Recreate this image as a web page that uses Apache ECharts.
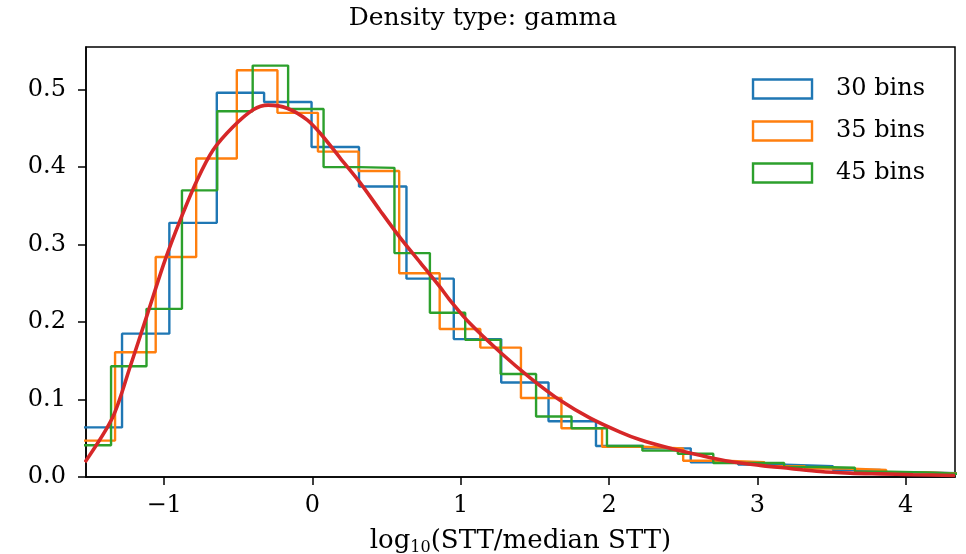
<!DOCTYPE html>
<html>
<head>
<meta charset="utf-8">
<script src="https://cdn.jsdelivr.net/npm/echarts@6/dist/echarts.min.js"></script>
<style>html,body{margin:0;padding:0;background:#fff}#c{width:966px;height:554px}</style>
</head>
<body>
<div id="c"></div>
<script>
// ---- data ----
const titleText = 'Density type: gamma';
const xNameRich = 'log{sub|10}(STT/median STT)';
const xTicks = [-1, 0, 1, 2, 3, 4];
const yTicks = [0, 0.1, 0.2, 0.3, 0.4, 0.5];

const names = ['30 bins', '35 bins', '45 bins'];

// 30 bins (visible part): bin edges and densities
const edges30 = [-1.604, -1.284, -0.965, -0.645, -0.326, -0.006, 0.314, 0.634, 0.953, 1.273,
  1.592, 1.912, 2.232, 2.551, 2.871, 3.190, 3.510, 3.830, 4.149, 4.469];
const dens30 = [0.064, 0.185, 0.328, 0.496, 0.484, 0.426, 0.375, 0.256, 0.178, 0.122,
  0.072, 0.040, 0.037, 0.019, 0.016, 0.014, 0.009, 0.006, 0.004];

// 35 bins
const edges35 = [-1.605, -1.331, -1.057, -0.784, -0.510, -0.236, 0.037, 0.311, 0.585, 0.858,
  1.132, 1.406, 1.679, 1.953, 2.227, 2.500, 2.774, 3.048, 3.321, 3.595, 3.869, 4.142, 4.416];
const dens35 = [0.047, 0.161, 0.284, 0.411, 0.525, 0.470, 0.420, 0.395, 0.263, 0.191,
  0.167, 0.102, 0.063, 0.039, 0.037, 0.021, 0.019, 0.014, 0.011, 0.009, 0.006, 0.004];

// 45 bins
const edges45 = [-1.597, -1.358, -1.119, -0.880, -0.642, -0.403, -0.164, 0.075, 0.314, 0.553,
  0.792, 1.030, 1.269, 1.508, 1.747, 1.986, 2.225, 2.464, 2.703, 2.942, 3.181, 3.419, 3.658,
  3.897, 4.136, 4.375];
const dens45 = [0.041, 0.143, 0.217, 0.370, 0.472, 0.531, 0.475, 0.400, 0.399, 0.289,
  0.212, 0.177, 0.133, 0.078, 0.063, 0.040, 0.034, 0.030, 0.018, 0.018, 0.013, 0.012,
  0.007, 0.006, 0.004];

// fitted gamma density
const curveX = [-1.534, -1.347, -1.230, -1.115, -0.994, -0.893, -0.778, -0.670, -0.535, -0.400,
  -0.299, -0.171, -0.036, 0.051, 0.186, 0.321, 0.456, 0.591, 0.726, 0.861, 0.928, 1.063, 1.266,
  1.468, 1.670, 1.873, 2.075, 2.210, 2.412, 2.614, 2.817, 3.019, 3.221, 3.424, 3.626, 3.828,
  4.050, 4.333];
const curveY = [0.019, 0.077, 0.142, 0.209, 0.280, 0.331, 0.383, 0.422, 0.452, 0.474,
  0.480, 0.476, 0.461, 0.444, 0.412, 0.380, 0.344, 0.309, 0.277, 0.245, 0.228, 0.198, 0.161,
  0.128, 0.099, 0.076, 0.058, 0.048, 0.037, 0.028, 0.020, 0.015, 0.011, 0.007, 0.005, 0.004,
  0.003, 0.002];

const colors = ['#1f77b4', '#ff7f0e', '#2ca02c'];
const curveColor = '#d62728';

// ---- build ----
function stepData(edges, dens) {
  const d = [[edges[0], 0]];
  for (let i = 0; i < dens.length; i++) d.push([edges[i], dens[i]]);
  d.push([edges[edges.length - 1], dens[dens.length - 1]]);
  d.push([edges[edges.length - 1], 0]);
  return d;
}
const FONT = 'DejaVu Serif';
const hist = [[edges30, dens30], [edges35, dens35], [edges45, dens45]];
const series = hist.map((h, i) => ({
  name: names[i], type: 'line', step: 'end', data: stepData(h[0], h[1]),
  showSymbol: false, symbol: 'none', clip: true,
  lineStyle: { color: colors[i], width: 2.4 }, itemStyle: { color: colors[i] }, z: 2 + i
}));
series.push({
  name: 'fit', type: 'line', smooth: 0.3, showSymbol: false, symbol: 'none', clip: true,
  data: curveX.map((x, i) => [x, curveY[i]]),
  lineStyle: { color: curveColor, width: 3.6 }, itemStyle: { color: curveColor }, z: 10
});

const fmtX = v => (v < 0 ? '\u2212' + (-v) : String(v));

const chart = echarts.init(document.getElementById('c'), null, { renderer: 'canvas' });
chart.setOption({
  animation: false,
  backgroundColor: '#fff',
  title: {
    text: titleText, left: 'center', top: 6, padding: 0,
    textStyle: { fontFamily: FONT, fontSize: 25, fontWeight: 'normal', color: '#000' }
  },
  legend: {
    data: names.map((n, i) => ({
      name: n, icon: 'rect',
      itemStyle: { color: 'rgba(0,0,0,0)', borderColor: colors[i], borderWidth: 2.4 }
    })),
    orient: 'vertical', right: 36, top: 72,
    itemWidth: 59, itemHeight: 19, itemGap: 18,
    textStyle: { fontFamily: FONT, fontSize: 24, color: '#000', padding: [0, 0, 0, 19], lineHeight: 24 }
  },
  grid: {
    left: 86, right: 11, top: 47, bottom: 77, show: true, containLabel: false,
    outerBoundsMode: 'none',
    borderColor: '#000', borderWidth: 1.5, backgroundColor: 'transparent'
  },
  xAxis: {
    type: 'value', min: -1.527, max: 4.333,
    name: xNameRich, nameLocation: 'middle', nameGap: 49,
    nameTextStyle: {
      fontFamily: FONT, fontSize: 26, color: '#000',
      rich: { sub: { fontFamily: FONT, fontSize: 16, color: '#000', padding: [14, 0, 0, 0] } }
    },
    axisLine: { show: true, onZero: false, lineStyle: { color: '#000', width: 1.5 } },
    axisTick: { show: true, inside: false, length: 8, customValues: xTicks, lineStyle: { color: '#000', width: 1.5 } },
    axisLabel: { customValues: xTicks, formatter: fmtX, margin: 17, fontFamily: FONT, fontSize: 24, color: '#000' },
    splitLine: { show: false }
  },
  yAxis: {
    type: 'value', min: 0, max: 0.555,
    axisLine: { show: true, onZero: false, lineStyle: { color: '#000', width: 1.5 } },
    axisTick: { show: true, inside: false, length: 8, customValues: yTicks, lineStyle: { color: '#000', width: 1.5 } },
    axisLabel: { customValues: yTicks, formatter: v => v.toFixed(1), margin: 20, fontFamily: FONT, fontSize: 24, color: '#000' },
    splitLine: { show: false }
  },
  series: series
});
</script>
</body>
</html>
